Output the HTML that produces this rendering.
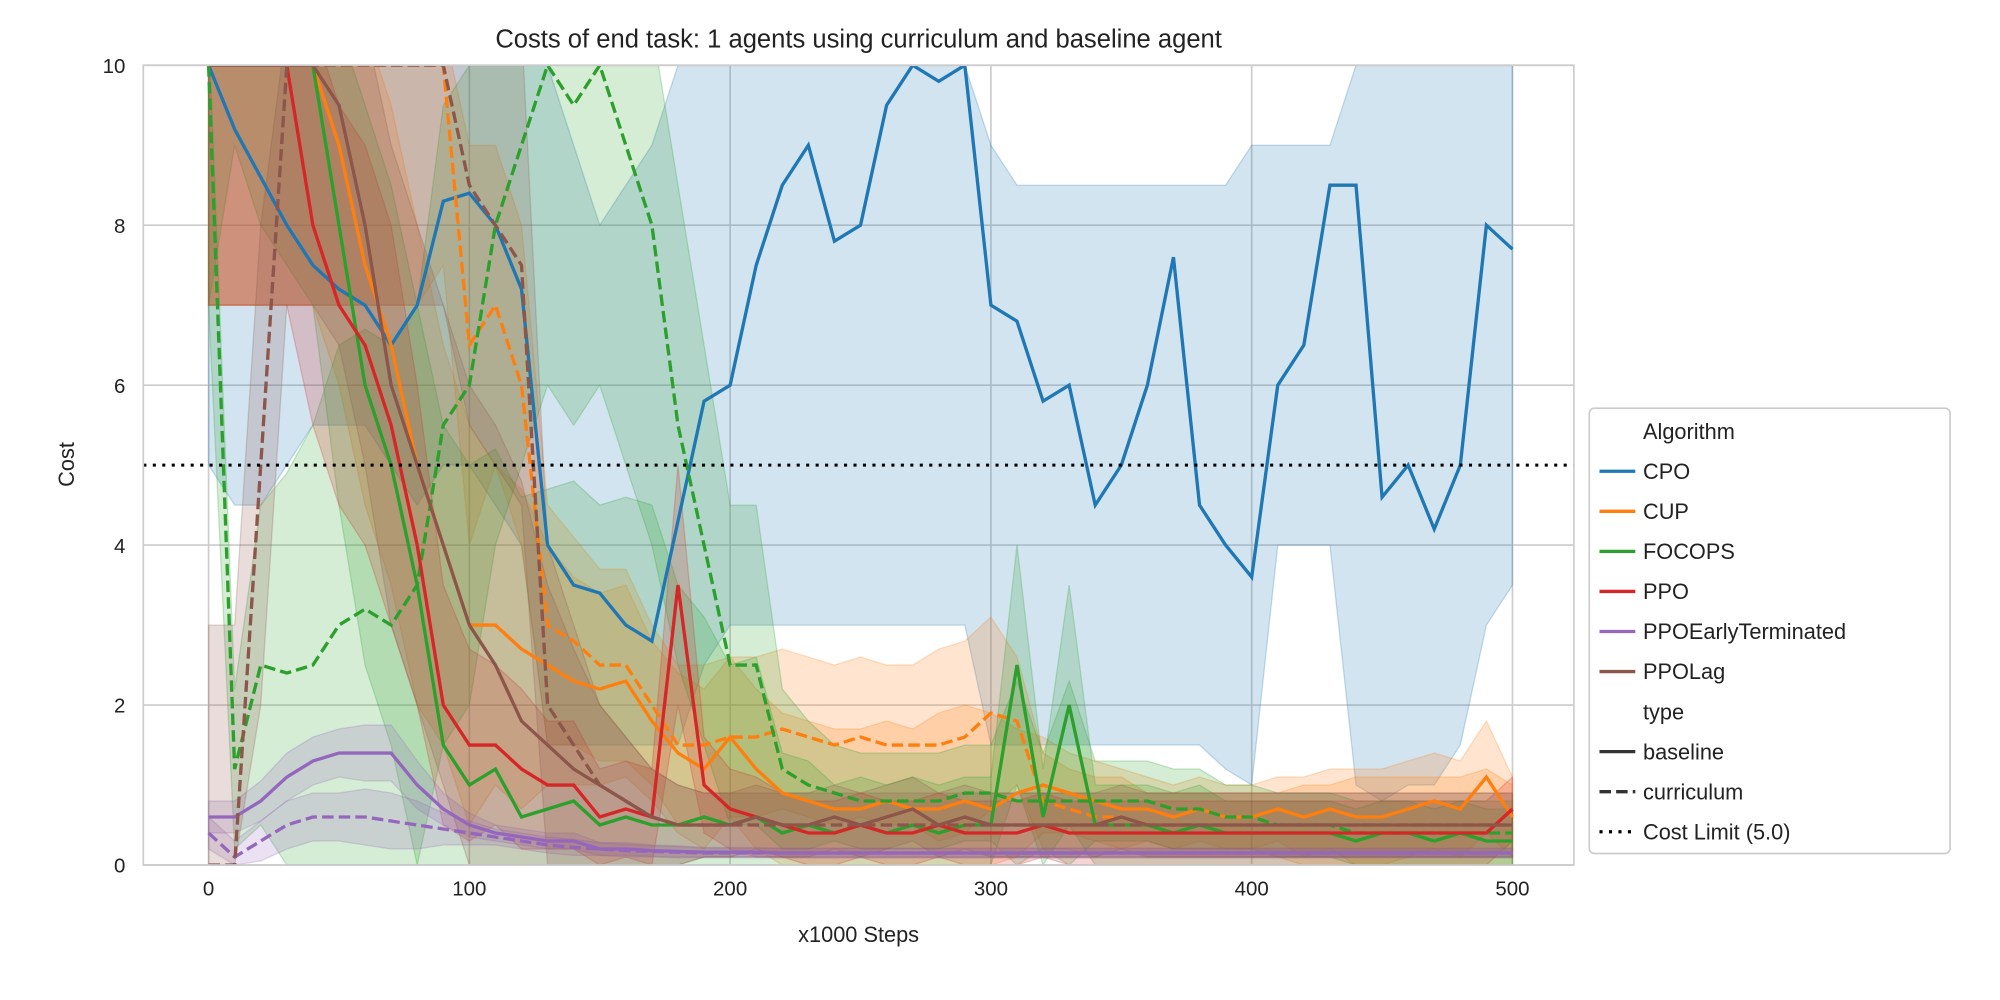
<!DOCTYPE html>
<html><head><meta charset="utf-8">
<style>
html,body{margin:0;padding:0;background:#fff;}
svg{display:block;font-family:"Liberation Sans",sans-serif;}
</style></head>
<body>
<svg id="chart" width="2000" height="1000" viewBox="0 0 1563 781.5" xmlns="http://www.w3.org/2000/svg">
<defs><clipPath id="clip"><rect x="112" y="51" width="1118" height="625"/></clipPath></defs>
<rect x="112" y="51" width="1118" height="625" fill="#fff"/>
<g id="grid"></g>
<g id="bands" clip-path="url(#clip)"></g>
<g id="lines" clip-path="url(#clip)"></g>
<line x1="112" x2="1230" y1="363.5" y2="363.5" stroke="#000" stroke-width="2.4" stroke-dasharray="2.4,5"/>
<rect x="112" y="51" width="1118" height="625" fill="none" stroke="#ccc" stroke-width="1.3"/>
<g id="ticks"></g>
<text x="671" y="37" font-size="20" text-anchor="middle" fill="#222">Costs of end task: 1 agents using curriculum and baseline agent</text>
<text x="671" y="736" font-size="17" text-anchor="middle" fill="#222">x1000 Steps</text>
<text transform="translate(58,363) rotate(-90)" font-size="17" text-anchor="middle" fill="#222">Cost</text>
<g id="legend">
<rect x="1242" y="319" width="282" height="348" rx="4" fill="#fff" stroke="#ccc" stroke-width="1.3"/>
</g>
</svg>
<script>
const steps=[0,10,20,30,40,50,60,70,80,90,100,110,120,130,140,150,160,170,180,190,200,210,220,230,240,250,260,270,280,290,300,310,320,330,340,350,360,370,380,390,400,410,420,430,440,450,460,470,480,490,500];
const xTicks=[0,100,200,300,400,500];
const yTicks=[0,2,4,6,8,10];
const cpoBase=[10,9.2,8.6,8,7.5,7.2,7,6.5,7,8.3,8.4,8,7.2,4,3.5,3.4,3,2.8,4.3,5.8,6,7.5,8.5,9,7.8,8,9.5,10,9.8,10,7,6.8,5.8,6,4.5,5,6,7.6,4.5,4,3.6,6,6.5,8.5,8.5,4.6,5,4.2,5,8,7.7];
const cpoLow=[5,4.5,4.5,5,5.5,5.5,5.5,5,4.5,5,5,4.5,4,1.5,1.5,1.5,1.5,1.5,1.5,2.5,3,3,3,3,3,3,3,3,3,3,1.5,1.5,1.5,1.5,1.5,1.5,1.5,1.5,1.5,1.2,1,4,4,4,1,0.8,1,1,1.5,3,3.5];
const cpoHigh=[10,10,10,10,10,10,10,10,10,10,10,10,10,10,9,8,8.5,9,10,10,10,10,10,10,10,10,10,10,10,10,9,8.5,8.5,8.5,8.5,8.5,8.5,8.5,8.5,8.5,9,9,9,9,10,10,10,10,10,10,10];
const cupBase=[10,10,10,10,10,9,7.5,6.5,5,4,3,3,2.7,2.5,2.3,2.2,2.3,1.8,1.4,1.2,1.6,1.2,0.9,0.8,0.7,0.7,0.8,0.7,0.7,0.8,0.7,0.9,1,0.9,0.8,0.7,0.7,0.6,0.7,0.6,0.6,0.7,0.6,0.7,0.6,0.6,0.7,0.8,0.7,1.1,0.6];
const cupCurr=[10,10,10,10,10,10,10,10,10,10,6.5,7,6,3,2.8,2.5,2.5,2,1.5,1.5,1.6,1.6,1.7,1.6,1.5,1.6,1.5,1.5,1.5,1.6,1.9,1.8,0.8,0.7,0.6,0.6,0.5,0.5,0.5,0.5,0.5,0.5,0.5,0.5,0.5,0.5,0.5,0.5,0.5,0.5,0.5];
const cupSd=[3,3,3,3,3,3,3,3,3,2.5,2.5,2,2,1.5,1.3,1.2,1.2,1,1,1,1,1,1,1,1,1,1,1,1.2,1.2,1.2,0.8,0.6,0.5,0.5,0.5,0.4,0.4,0.4,0.4,0.4,0.4,0.5,0.5,0.6,0.6,0.6,0.6,0.6,0.7,0.5];
const focBase=[10,10,10,10,10,8,6,5,3.5,1.5,1,1.2,0.6,0.7,0.8,0.5,0.6,0.5,0.5,0.6,0.5,0.6,0.4,0.5,0.4,0.5,0.4,0.5,0.4,0.5,0.5,2.5,0.6,2,0.5,0.5,0.5,0.4,0.5,0.4,0.4,0.4,0.4,0.4,0.3,0.4,0.4,0.3,0.4,0.3,0.3];
const focCurr=[10,1.2,2.5,2.4,2.5,3,3.2,3,3.5,5.5,6,8,9,10,9.5,10,9,8,5.5,4,2.5,2.5,1.2,1,0.9,0.8,0.8,0.8,0.8,0.9,0.9,0.8,0.8,0.8,0.8,0.8,0.8,0.7,0.7,0.6,0.6,0.5,0.5,0.5,0.4,0.4,0.4,0.4,0.4,0.4,0.4];
const focSd=[3,1,2,2.5,3,3.5,3.5,3.5,3.5,4,4,4,4,4,4,4,4,4,3,2.5,2,2,1,0.8,0.6,0.6,0.6,0.6,0.6,0.6,0.6,1.5,0.6,1.5,0.5,0.5,0.5,0.5,0.5,0.4,0.4,0.4,0.4,0.4,0.4,0.4,0.4,0.4,0.4,0.4,0.4];
const ppoBase=[10,10,10,10,8,7,6.5,5.5,4,2,1.5,1.5,1.2,1,1,0.6,0.7,0.6,3.5,1,0.7,0.6,0.5,0.4,0.4,0.5,0.4,0.4,0.5,0.4,0.4,0.4,0.5,0.4,0.4,0.4,0.4,0.4,0.4,0.4,0.4,0.4,0.4,0.4,0.4,0.4,0.4,0.4,0.4,0.4,0.7];
const ppoSd=[3,3,3,3,2.5,2.5,2.5,2.5,2,1.5,1.2,1,1,0.8,0.8,0.6,0.6,0.6,1.5,0.6,0.5,0.5,0.4,0.4,0.4,0.4,0.4,0.4,0.4,0.4,0.4,0.4,0.4,0.4,0.4,0.4,0.4,0.4,0.4,0.4,0.4,0.4,0.4,0.4,0.4,0.4,0.4,0.4,0.4,0.4,0.4];
const etBase=[0.6,0.6,0.8,1.1,1.3,1.4,1.4,1.4,1,0.7,0.5,0.4,0.35,0.3,0.3,0.2,0.2,0.18,0.17,0.16,0.16,0.16,0.15,0.15,0.15,0.15,0.15,0.15,0.15,0.15,0.15,0.15,0.15,0.15,0.15,0.15,0.15,0.15,0.15,0.15,0.15,0.15,0.15,0.15,0.15,0.15,0.15,0.15,0.15,0.15,0.15];
const etCurr=[0.4,0.1,0.3,0.5,0.6,0.6,0.6,0.55,0.5,0.45,0.4,0.35,0.3,0.25,0.22,0.2,0.18,0.17,0.16,0.15,0.15,0.15,0.15,0.15,0.15,0.15,0.15,0.15,0.15,0.15,0.15,0.15,0.15,0.15,0.15,0.15,0.15,0.15,0.15,0.15,0.15,0.15,0.15,0.15,0.15,0.15,0.15,0.15,0.15,0.15,0.15];
const etSd=[0.2,0.2,0.25,0.3,0.3,0.3,0.35,0.35,0.3,0.2,0.15,0.1,0.1,0.1,0.1,0.08,0.08,0.07,0.07,0.06,0.06,0.06,0.06,0.06,0.06,0.06,0.06,0.06,0.06,0.06,0.06,0.06,0.06,0.06,0.06,0.06,0.06,0.06,0.06,0.06,0.06,0.06,0.06,0.06,0.06,0.06,0.06,0.06,0.06,0.06,0.06];
const lagBase=[10,10,10,10,10,9.5,8,6,5,4,3,2.5,1.8,1.5,1.2,1,0.8,0.6,0.5,0.5,0.5,0.6,0.5,0.5,0.6,0.5,0.6,0.7,0.5,0.6,0.5,0.5,0.5,0.5,0.5,0.6,0.5,0.5,0.5,0.5,0.5,0.5,0.5,0.5,0.5,0.5,0.5,0.5,0.5,0.5,0.5];
const lagCurr=[0,0,5,10,10,10,10,10,10,10,8.5,8,7.5,2,1.5,1,0.8,0.6,0.5,0.5,0.5,0.5,0.5,0.5,0.5,0.5,0.5,0.5,0.5,0.5,0.5,0.5,0.5,0.5,0.5,0.5,0.5,0.5,0.5,0.5,0.5,0.5,0.5,0.5,0.5,0.5,0.5,0.5,0.5,0.5,0.5];
const lagSd=[3,3,3,3,3,3,3,3,3,3,3,3,3,2,1.5,1,0.8,0.6,0.5,0.4,0.4,0.4,0.4,0.4,0.4,0.4,0.4,0.4,0.4,0.4,0.4,0.4,0.4,0.4,0.4,0.4,0.4,0.4,0.4,0.4,0.4,0.4,0.4,0.4,0.4,0.4,0.4,0.4,0.4,0.4,0.4];

const NS='http://www.w3.org/2000/svg';
const X=v=>163+v*(1182-163)/500;
const Y=v=>676-Math.max(-0.5,Math.min(10.5,v))*62.5;
function mk(tag,attrs,parent){const e=document.createElementNS(NS,tag);for(const k in attrs)e.setAttribute(k,attrs[k]);parent.appendChild(e);return e;}
const grid=document.getElementById('grid'),ticks=document.getElementById('ticks');
xTicks.forEach(t=>{
  const l=mk('line',{x1:X(t),x2:X(t),y1:51,y2:676,stroke:'#ccc','stroke-width':1.3},grid);
  
  
  const tx=mk('text',{x:X(t),y:700,'font-size':16,'text-anchor':'middle',fill:'#222'},ticks);tx.textContent=t;
  
  
});
yTicks.forEach(t=>{
  const l=mk('line',{x1:112,x2:1230,y1:Y(t),y2:Y(t),stroke:'#ccc','stroke-width':1.3},grid);
  
  
  const tx=mk('text',{x:98,y:Y(t)+6,'font-size':16,'text-anchor':'end',fill:'#222'},ticks);tx.textContent=t;
  
  
});
function band(lo,hi,color,name){
  let d='M'+steps.map((s,i)=>X(s)+','+Y(lo[i])).join('L');
  for(let i=steps.length-1;i>=0;i--)d+='L'+X(steps[i])+','+Y(hi[i]);
  const p=mk('path',{d:d+'Z',fill:color,'fill-opacity':0.2,stroke:color,'stroke-opacity':0.25},document.getElementById('bands'));
  
  
}
function sdBand(m,sd,color,name){band(m.map((v,i)=>Math.max(0,v-sd[i])),m.map((v,i)=>Math.min(10.5,v+sd[i])),color,name);}
function line(m,color,dash,name){
  const p=mk('path',{d:'M'+steps.map((s,i)=>X(s)+','+Y(m[i])).join('L'),fill:'none',stroke:color,'stroke-width':2.6,'stroke-dasharray':dash},document.getElementById('lines'));
  
  
}
const C={cpo:'#1f77b4',cup:'#ff7f0e',foc:'#2ca02c',ppo:'#d62728',et:'#9467bd',lag:'#8c564b'};
band(cpoLow,cpoHigh,C.cpo,'cpo-band');
sdBand(cupBase,cupSd,C.cup,'cup-baseline-band');
sdBand(cupCurr,cupSd,C.cup,'cup-curriculum-band');
sdBand(focBase,focSd,C.foc,'focops-baseline-band');
sdBand(focCurr,focSd,C.foc,'focops-curriculum-band');
sdBand(ppoBase,ppoSd,C.ppo,'ppo-band');
sdBand(etBase,etSd,C.et,'ppoet-baseline-band');
sdBand(etCurr,etSd,C.et,'ppoet-curriculum-band');
sdBand(lagBase,lagSd,C.lag,'ppolag-baseline-band');
sdBand(lagCurr,lagSd,C.lag,'ppolag-curriculum-band');
line(cpoBase,C.cpo,'none','cpo-baseline-line');
line(cupBase,C.cup,'none','cup-baseline-line');
line(cupCurr,C.cup,'9,4','cup-curriculum-line');
line(focBase,C.foc,'none','focops-baseline-line');
line(focCurr,C.foc,'9,4','focops-curriculum-line');
line(ppoBase,C.ppo,'none','ppo-baseline-line');
line(etBase,C.et,'none','ppoet-baseline-line');
line(etCurr,C.et,'9,4','ppoet-curriculum-line');
line(lagBase,C.lag,'none','ppolag-baseline-line');
line(lagCurr,C.lag,'9,4','ppolag-curriculum-line');
const leg=document.getElementById('legend');
const entries=[['Algorithm',null,null,true],['CPO',C.cpo,'none'],['CUP',C.cup,'none'],['FOCOPS',C.foc,'none'],['PPO',C.ppo,'none'],['PPOEarlyTerminated',C.et,'none'],['PPOLag',C.lag,'none'],['type',null,null,true],['baseline','#333','none'],['curriculum','#333','9,4'],['Cost Limit (5.0)','#000','2.4,5']];
entries.forEach((e,i)=>{
  const y=337+i*31.3;
  const g=mk('g',{},leg);
  
  
  if(e[1])mk('line',{x1:1250,x2:1278,y1:y,y2:y,stroke:e[1],'stroke-width':2.6,'stroke-dasharray':e[2]},g);
  const t=mk('text',{x:1284,y:y+6,'font-size':17,fill:'#222'},g);t.textContent=e[0];
});
</script>
</body></html>
